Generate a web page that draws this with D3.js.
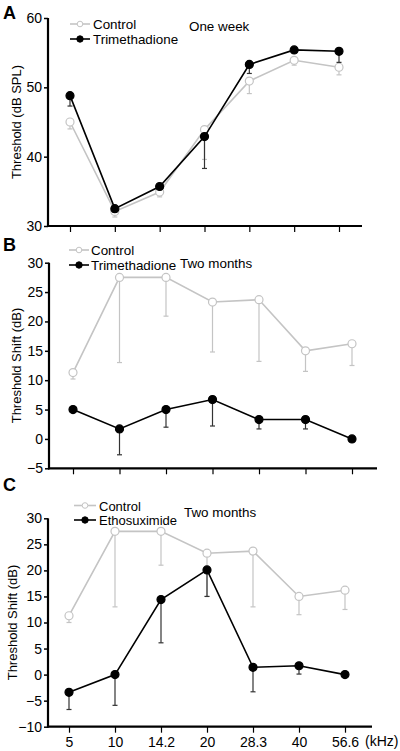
<!DOCTYPE html>
<html><head><meta charset="utf-8">
<script src="https://cdn.jsdelivr.net/npm/d3@7"></script>
<style>body{margin:0;background:#fff}svg{display:block}text{font-family:"Liberation Sans",Arial,sans-serif}</style>
</head><body>
<svg id="c" width="400" height="751"></svg>
<script>
const freqs = ["5","10","14.2","20","28.3","40","56.6"];
// Panel A: thresholds (dB SPL) one week
const aControl = [45.0, 32.1, 34.9, 43.9, 50.9, 53.9, 52.9];
const aControlErr = [44.0, 31.3, 34.2, 39.6, 49.1, 53.2, 51.8];
const aTrim = [48.8, 32.5, 35.7, 42.9, 53.3, 55.4, 55.2];
const aTrimErr = [47.3, 32.0, 35.7, 38.3, 52.0, 55.4, 53.6];
// Panel B: threshold shift two months
const bControl = [11.3, 27.5, 27.5, 23.3, 23.7, 15.0, 16.2];
const bControlErr = [10.2, 13.0, 20.9, 14.8, 13.2, 11.5, 12.5];
const bTrim = [5.0, 1.7, 5.0, 6.7, 3.3, 3.3, 0.0];
const bTrimErr = [5.0, -2.7, 2.0, 2.2, 1.7, 1.7, 0.0];
// Panel C
const cControl = [11.3, 27.5, 27.5, 23.3, 23.7, 15.0, 16.2];
const cControlErr = [10.0, 13.0, 21.0, 15.0, 13.0, 11.5, 12.5];
const cEtho = [-3.4, 0.0, 14.4, 20.1, 1.4, 1.7, 0.0];
const cEthoErr = [-6.7, -5.9, 6.1, 15.0, -3.3, 0.1, 0.0];

const aTicks = [30, 40, 50, 60];
const bTicks = [-5, 0, 5, 10, 15, 20, 25, 30];
const cTicks = [-10, -5, 0, 5, 10, 15, 20, 25, 30];

const svg = d3.select("#c");
const GRAY = "#c4c4c4";

function panel(o) {
  const g = svg.append("g");
  const x = d3.scalePoint().domain(freqs).range([o.x0, o.x1]);
  const y = d3.scaleLinear().domain(o.yDomain).range([o.yBottom, o.yTop]);
  // axes
  const ya = g.append("g").attr("transform", `translate(${o.axisX},0)`)
    .call(d3.axisLeft(y).tickValues(o.ticks).tickSize(4).tickSizeOuter(0).tickPadding(2));
  ya.select(".domain").attr("stroke-width", 2.2).attr("d", `M0,${o.yBottom + 1}V${o.yTop}`);
  ya.selectAll(".tick line").attr("stroke-width", 1.5);
  ya.selectAll("text").attr("font-size", 14).attr("fill", "#000").attr("font-family", "Liberation Sans, Arial");
  const xa = g.append("g").attr("transform", `translate(0,${o.yBottom})`)
    .call(d3.axisBottom(x).tickSize(6).tickSizeOuter(0).tickPadding(4));
  xa.select(".domain").attr("stroke-width", 2.2).attr("d", `M${o.axisX - 1},0H${o.axisEnd}`);
  xa.selectAll(".tick line").attr("stroke-width", 1.2);
  if (o.showX) {
    xa.selectAll("text").attr("font-size", 14).attr("fill", "#000").attr("font-family", "Liberation Sans, Arial");
    g.append("text").attr("x", o.x1 + 20).attr("y", o.yBottom + 19).attr("font-size", 14).text("(kHz)");
  } else {
    xa.selectAll("text").remove();
  }
  // y title
  g.append("text").attr("transform", `translate(${o.titleX},${(o.yTop + o.yBottom) / 2}) rotate(-90)`)
    .attr("text-anchor", "middle").attr("font-size", 13).text(o.title);
  // panel letter
  g.append("text").attr("x", 3).attr("y", o.letterY).attr("font-size", 18).attr("font-weight", "bold").text(o.letter);

  function series(vals, errs, color, filled, errColor) {
    const eb = g.append("g").attr("stroke", errColor).attr("stroke-width", 1.2);
    freqs.forEach((f, i) => {
      if (Math.abs(vals[i] - errs[i]) < 0.05) return;
      eb.append("line").attr("x1", x(f)).attr("x2", x(f)).attr("y1", y(vals[i])).attr("y2", y(errs[i]));
      eb.append("line").attr("x1", x(f) - 2.5).attr("x2", x(f) + 2.5).attr("y1", y(errs[i])).attr("y2", y(errs[i]));
    });
    g.append("path").datum(vals).attr("fill", "none").attr("stroke", color).attr("stroke-width", 1.6)
      .attr("d", d3.line().x((d, i) => x(freqs[i])).y(d => y(d)));
    g.selectAll(null).data(vals).enter().append("circle")
      .attr("cx", (d, i) => x(freqs[i])).attr("cy", d => y(d)).attr("r", 4)
      .attr("fill", filled ? color : "#fff").attr("stroke", color).attr("stroke-width", 1.2);
  }
  series(o.ctrl, o.ctrlErr, GRAY, false, GRAY);
  series(o.trt, o.trtErr, "#000", true, "#333");

  // legend
  const L = o.legend;
  [[GRAY, false, "Control", L.y1], ["#000", true, o.trtName, L.y2]].forEach(([c, f, t, yy]) => {
    g.append("line").attr("x1", L.lx0).attr("x2", L.lx1).attr("y1", yy - 5).attr("y2", yy - 5)
      .attr("stroke", c).attr("stroke-width", 1.6);
    g.append("circle").attr("cx", (L.lx0 + L.lx1) / 2).attr("cy", yy - 5).attr("r", f ? 3.2 : 2.8)
      .attr("fill", f ? c : "#fff").attr("stroke", c).attr("stroke-width", 1);
    g.append("text").attr("x", L.tx).attr("y", yy).attr("font-size", L.fs || 13.4).text(t);
  });
  g.append("text").attr("x", L.nx).attr("y", L.ny).attr("font-size", 13.4).text(o.note);
}

panel({x0: 70, x1: 339, yDomain: [30, 60], yBottom: 226, yTop: 18, axisX: 48, axisEnd: 362,
  ticks: aTicks, showX: false, title: "Threshold (dB SPL)", titleX: 21, letter: "A", letterY: 19,
  ctrl: aControl, ctrlErr: aControlErr, trt: aTrim, trtErr: aTrimErr, trtName: "Trimethadione",
  note: "One week", legend: {lx0: 70, lx1: 90, tx: 93, y1: 29, y2: 44, nx: 189, ny: 31}});

panel({x0: 73, x1: 352, yDomain: [-5, 30], yBottom: 468.3, yTop: 262.7, axisX: 49, axisEnd: 377,
  ticks: bTicks, showX: false, title: "Threshold Shift (dB)", titleX: 21, letter: "B", letterY: 251,
  ctrl: bControl, ctrlErr: bControlErr, trt: bTrim, trtErr: bTrimErr, trtName: "Trimethadione",
  note: "Two months", legend: {lx0: 69, lx1: 89, tx: 91, y1: 255, y2: 270, nx: 180, ny: 268}});

panel({x0: 69, x1: 345, yDomain: [-10, 30], yBottom: 726.7, yTop: 518.3, axisX: 48, axisEnd: 372,
  ticks: cTicks, showX: true, title: "Threshold Shift (dB)", titleX: 17, letter: "C", letterY: 491,
  ctrl: cControl, ctrlErr: cControlErr, trt: cEtho, trtErr: cEthoErr, trtName: "Ethosuximide",
  note: "Two months", legend: {lx0: 74, lx1: 96, tx: 99, y1: 510.5, y2: 525, nx: 184, ny: 517, fs: 13}});
</script>
</body></html>
